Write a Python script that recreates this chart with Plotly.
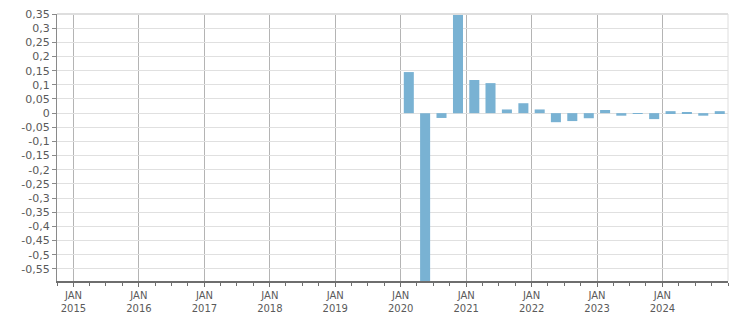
import plotly.graph_objects as go

# Data: quarterly values (quarter start dates)
quarters = ["2020-01-01", "2020-04-01", "2020-07-01", "2020-10-01",
            "2021-01-01", "2021-04-01", "2021-07-01", "2021-10-01",
            "2022-01-01", "2022-04-01", "2022-07-01", "2022-10-01",
            "2023-01-01", "2023-04-01", "2023-07-01", "2023-10-01",
            "2024-01-01", "2024-04-01", "2024-07-01", "2024-10-01"]
values = [0.145, -0.63, -0.017, 0.37,
          0.117, 0.106, 0.013, 0.035,
          0.013, -0.032, -0.028, -0.018,
          0.011, -0.009, -0.003, -0.021,
          0.007, 0.003, -0.009, 0.007]

x_tick_vals = ["2015-01-01", "2016-01-01", "2017-01-01", "2018-01-01", "2019-01-01",
               "2020-01-01", "2021-01-01", "2022-01-01", "2023-01-01", "2024-01-01"]
x_tick_text = ["JAN<br>2015", "JAN<br>2016", "JAN<br>2017", "JAN<br>2018", "JAN<br>2019",
               "JAN<br>2020", "JAN<br>2021", "JAN<br>2022", "JAN<br>2023", "JAN<br>2024"]

y_tick_vals = [0.35, 0.3, 0.25, 0.2, 0.15, 0.1, 0.05, 0, -0.05, -0.1, -0.15, -0.2,
               -0.25, -0.3, -0.35, -0.4, -0.45, -0.5, -0.55]
y_tick_text = ["0,35", "0,3", "0,25", "0,2", "0,15", "0,1", "0,05", "0", "-0,05", "-0,1",
               "-0,15", "-0,2", "-0,25", "-0,3", "-0,35", "-0,4", "-0,45", "-0,5", "-0,55"]

DAY_MS = 86400000

fig = go.Figure()
fig.add_trace(go.Bar(
    x=quarters, y=values,
    xperiod="M3", xperiodalignment="middle",
    width=[56 * DAY_MS] * len(values),
    marker=dict(color="#79b2d3", line=dict(width=0)),
    hoverinfo="x+y",
))

font_color = "#5a5a5a"
fig.update_layout(
    width=751, height=313,
    margin=dict(l=57, r=23, t=14, b=32),
    paper_bgcolor="white", plot_bgcolor="white",
    showlegend=False,
    font=dict(family="DejaVu Sans", size=11, color=font_color),
    xaxis=dict(
        type="date", automargin=False,
        range=["2014-10-01", "2025-01-01"],
        tickmode="array", tickvals=x_tick_vals, ticktext=x_tick_text,
        showgrid=True, gridcolor="#b4b4b4", gridwidth=1,
        showline=True, linecolor="#6e6e6e", linewidth=2,
        ticks="outside", ticklen=4, tickcolor="#6e6e6e", tickwidth=1,
        ticklabelstandoff=0,
        tickfont=dict(size=10, color=font_color),
        minor=dict(dtick="M3", tick0="2015-01-01", ticks="outside", ticklen=3,
                   tickcolor="#6e6e6e", showgrid=False),
        zeroline=False,
    ),
    yaxis=dict(
        automargin=False,
        range=[-0.5926, 0.35],
        tickmode="array", tickvals=y_tick_vals, ticktext=y_tick_text,
        showgrid=True, gridcolor="#e0e0e0", gridwidth=1,
        showline=True, linecolor="#8a8a8a", linewidth=1,
        ticks="outside", ticklen=4, tickcolor="#8a8a8a",
        tickfont=dict(size=11, color=font_color),
        zeroline=False,
    ),
    shapes=[
        dict(type="line", xref="paper", yref="paper", x0=0, x1=1, y0=1, y1=1,
             line=dict(color="#dedede", width=2)),
        dict(type="line", xref="paper", yref="paper", x0=1, x1=1, y0=0, y1=1,
             line=dict(color="#dedede", width=1)),
    ],
)

fig.write_html("out.html")
